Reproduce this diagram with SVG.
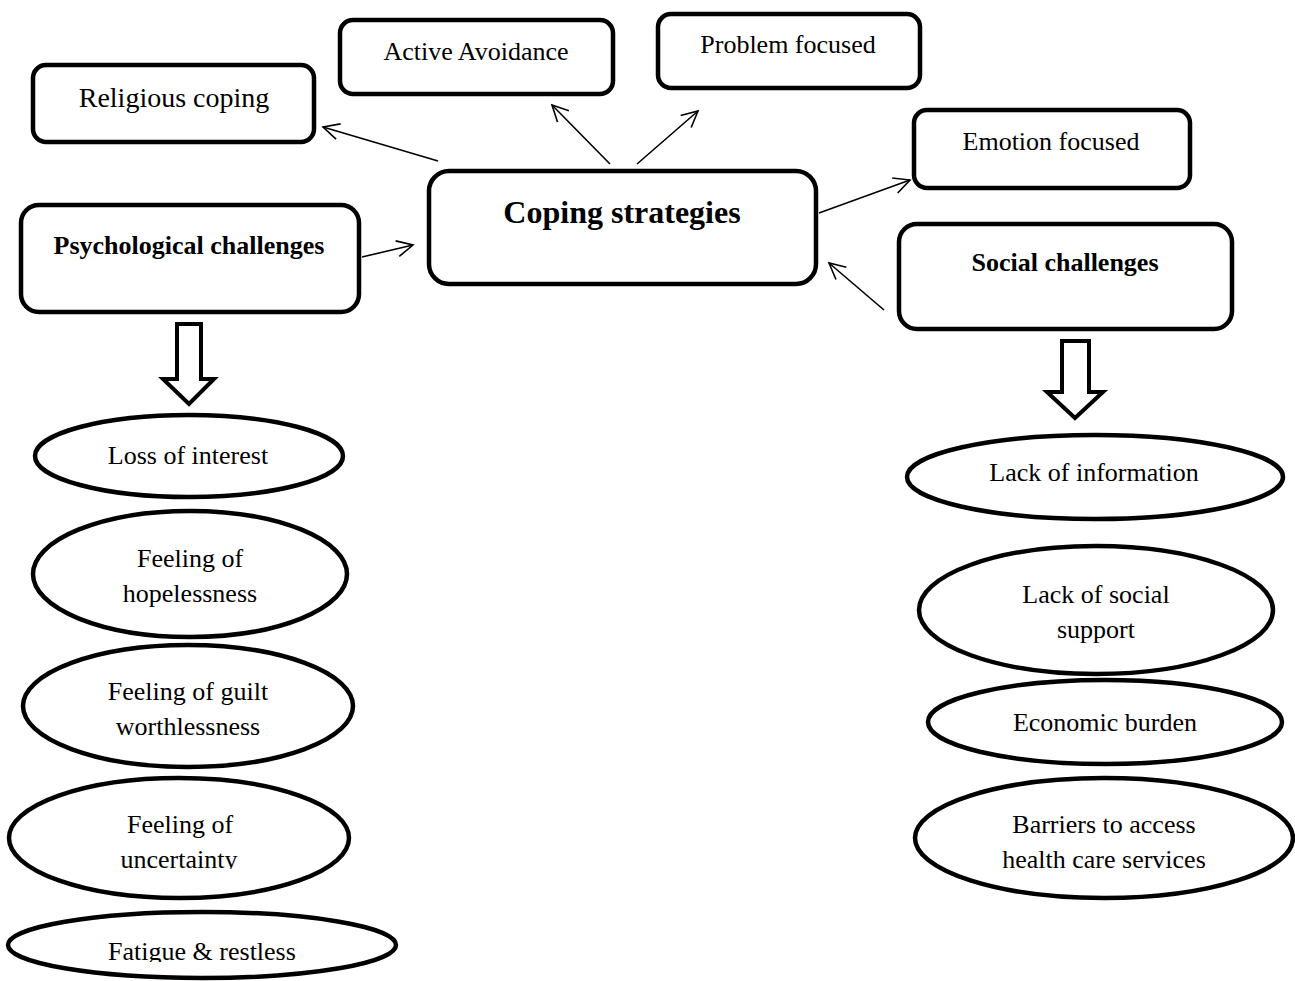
<svg xmlns="http://www.w3.org/2000/svg" width="1295" height="981" viewBox="0 0 1295 981">
<style>
  .box { fill: #fff; stroke: #000; stroke-width: 4.5; }
  .ell { fill: #fff; stroke: #000; stroke-width: 4.5; }
  .t { font-family: "Liberation Serif", "Times New Roman", serif; font-size: 26px; fill: #000; text-anchor: middle; }
  .b { font-weight: bold; }
  .conn { stroke: #000; stroke-width: 1.6; fill: none; }
  .blk { fill: #fff; stroke: #000; stroke-width: 4; stroke-linejoin: miter; }
</style>
<defs>
  <marker id="arr" markerUnits="userSpaceOnUse" markerWidth="20" markerHeight="20" refX="16" refY="8" orient="auto" overflow="visible">
    <path d="M0,0 L16,8 L0,16" fill="none" stroke="#000" stroke-width="1.6"/>
  </marker>
  <clipPath id="clipU"><rect x="0" y="0" width="1295" height="869"/></clipPath>
  <clipPath id="clipF"><rect x="0" y="0" width="1295" height="962"/></clipPath>
</defs>

<g id="connectors">
  <line class="conn" x1="438" y1="161" x2="323" y2="127" marker-end="url(#arr)"/>
  <line class="conn" x1="610" y1="164" x2="552" y2="105" marker-end="url(#arr)"/>
  <line class="conn" x1="637" y1="164" x2="698" y2="111" marker-end="url(#arr)"/>
  <line class="conn" x1="819" y1="213" x2="910" y2="180" marker-end="url(#arr)"/>
  <line class="conn" x1="884" y1="310" x2="829" y2="263" marker-end="url(#arr)"/>
  <line class="conn" x1="362" y1="257" x2="413" y2="245" marker-end="url(#arr)"/>
  <polygon class="blk" points="177,324 201,324 201,379 214,379 189,404 163,379 177,379"/>
  <polygon class="blk" points="1062,341 1089,341 1089,392 1103,392 1075,418 1047,392 1062,392"/>
</g>

<g id="religious">
  <rect class="box" x="33" y="65" width="281" height="77" rx="13"/>
  <text class="t" x="174" y="107" style="font-size:28px">Religious coping</text>
</g>
<g id="active">
  <rect class="box" x="340" y="20" width="273" height="74" rx="13"/>
  <text class="t" x="476" y="60">Active Avoidance</text>
</g>
<g id="problem">
  <rect class="box" x="658" y="14" width="262" height="74" rx="13"/>
  <text class="t" x="788" y="53">Problem focused</text>
</g>
<g id="coping">
  <rect class="box" x="429" y="171" width="387" height="113" rx="20"/>
  <text class="t b" x="622" y="223" style="font-size:32px">Coping strategies</text>
</g>
<g id="emotion">
  <rect class="box" x="914" y="110" width="276" height="78" rx="13"/>
  <text class="t" x="1051" y="150">Emotion focused</text>
</g>
<g id="psych">
  <rect class="box" x="21" y="205" width="338" height="107" rx="18"/>
  <text class="t b" x="189" y="254">Psychological challenges</text>
</g>
<g id="social">
  <rect class="box" x="899" y="224" width="333" height="105" rx="18"/>
  <text class="t b" x="1065" y="271">Social challenges</text>
</g>

<g id="loss">
  <ellipse class="ell" cx="189" cy="456" rx="154" ry="41"/>
  <text class="t" x="188" y="464">Loss of interest</text>
</g>
<g id="hopeless">
  <ellipse class="ell" cx="190" cy="574" rx="157" ry="63"/>
  <text class="t" x="190" y="567">Feeling of</text>
  <text class="t" x="190" y="602">hopelessness</text>
</g>
<g id="guilt">
  <ellipse class="ell" cx="188" cy="706" rx="165" ry="61"/>
  <text class="t" x="188" y="700">Feeling of guilt</text>
  <text class="t" x="188" y="735">worthlessness</text>
</g>
<g id="uncertainty">
  <ellipse class="ell" cx="179" cy="838" rx="170" ry="60"/>
  <text class="t" x="180" y="833">Feeling of</text>
  <text class="t" x="179" y="868" clip-path="url(#clipU)">uncertainty</text>
</g>
<g id="fatigue">
  <ellipse class="ell" cx="202" cy="945" rx="194" ry="33"/>
  <text class="t" x="202" y="960" clip-path="url(#clipF)">Fatigue &amp; restless</text>
</g>

<g id="lackinfo">
  <ellipse class="ell" cx="1095" cy="477" rx="188" ry="42"/>
  <text class="t" x="1094" y="481">Lack of information</text>
</g>
<g id="lacksocial">
  <ellipse class="ell" cx="1096" cy="610" rx="177" ry="64"/>
  <text class="t" x="1096" y="603">Lack of social</text>
  <text class="t" x="1096" y="638">support</text>
</g>
<g id="economic">
  <ellipse class="ell" cx="1105" cy="722" rx="177" ry="42"/>
  <text class="t" x="1105" y="731">Economic burden</text>
</g>
<g id="barriers">
  <ellipse class="ell" cx="1104" cy="838" rx="189" ry="60"/>
  <text class="t" x="1104" y="833">Barriers to access</text>
  <text class="t" x="1104" y="868">health care services</text>
</g>
</svg>
